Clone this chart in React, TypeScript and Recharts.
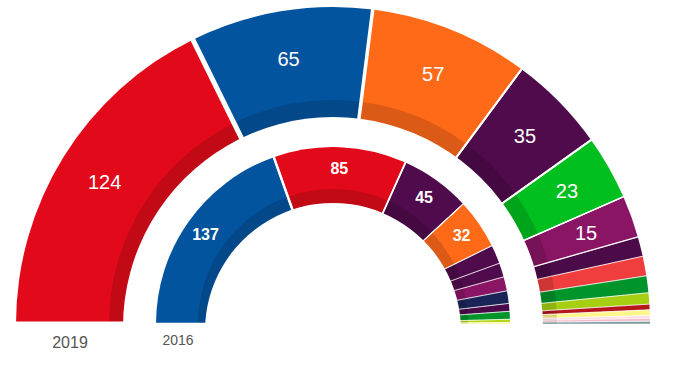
import React from "react";
import { PieChart, Pie, Cell } from "recharts";

// 2019 (outer ring)
const parties2019 = ["PSOE", "PP", "Cs", "UP", "Vox", "ERC", "ECP", "JxCat", "PNV", "EH Bildu", "PACMA", "CC", "NA+", "PRC", "Compromís"];
const seats2019 = [124, 65, 57, 35, 23, 15, 7, 7, 6, 4, 2, 2, 1, 1, 1];
const colors2019 = ["#e20a1a", "#03549f", "#ff6a19", "#4f0b4b", "#00bf1f", "#8a1565", "#4b0a48", "#f03e3e", "#00952a", "#a6cf12", "#b5161b", "#fff68c", "#fbdde3", "#f6b9cb", "#7c9c9f"];

// 2016 (inner ring)
const parties2016 = ["PP", "PSOE", "UP", "Cs", "En Comú", "Compromís", "ERC", "CDC", "En Marea", "PNV", "EH Bildu", "CC"];
const seats2016 = [137, 85, 45, 32, 12, 9, 9, 8, 5, 5, 2, 1];
const colors2016 = ["#03549f", "#e20a1a", "#4f0b4b", "#ff6a19", "#4f0b4b", "#4f0b4b", "#8a1565", "#1b2456", "#4a0a4a", "#00952a", "#b4d614", "#fff68c"];

const years = ["2019", "2016"];

const outer = parties2019.map((party, i) => ({ party, seats: seats2019[i] }));
const inner = parties2016.map((party, i) => ({ party, seats: seats2016[i] }));

const CX = 333;
const CY = 324;
const RADIAN = Math.PI / 180;

function darken(hex: string, k = 0.86) {
  const n = parseInt(hex.slice(1), 16);
  const r = Math.round(((n >> 16) & 255) * k);
  const g = Math.round(((n >> 8) & 255) * k);
  const b = Math.round((n & 255) * k);
  return `rgb(${r},${g},${b})`;
}

function makeLabel(radius: number, size: number, weight: number, min: number) {
  return (props: any) => {
    const { midAngle, value } = props;
    if (value < min) return null;
    const x = CX + radius * Math.cos(-midAngle * RADIAN);
    const y = CY + radius * Math.sin(-midAngle * RADIAN);
    return (
      <text
        x={x}
        y={y}
        fill="#fff"
        textAnchor="middle"
        dominantBaseline="central"
        fontSize={size}
        fontWeight={weight}
        fontFamily="'Liberation Sans', Arial, sans-serif"
      >
        {value}
      </text>
    );
  };
}

const outerStroke = [5, 3.5, 2, 2, 1.5, 1.2];
const innerStroke = [2.5, 1.8, 1.2, 1];

function Ring({ data, colors, strokes, r, R, band, drop, labelR, labelSize, labelWeight, labelMin }: any) {
  const common = {
    data,
    dataKey: "seats",
    cx: CX,
    cy: CY,
    startAngle: 180,
    endAngle: 0,
    innerRadius: 0,
    isAnimationActive: false,
  };
  return [
    <Pie key="light" {...common} outerRadius={R} stroke="none">
      {data.map((d: any, i: number) => (
        <Cell key={d.party} fill={colors[i]} />
      ))}
    </Pie>,
    <Pie key="dark" {...common} outerRadius={r + band} stroke="none">
      {data.map((d: any, i: number) => (
        <Cell key={d.party} fill={darken(colors[i])} />
      ))}
    </Pie>,
    <Pie
      key="sep"
      {...common}
      outerRadius={R + 4}
      fill="none"
      label={makeLabel(labelR, labelSize, labelWeight, labelMin)}
      labelLine={false}
    >
      {data.map((d: any, i: number) => (
        <Cell
          key={d.party}
          fill="none"
          stroke="#fff"
          strokeWidth={strokes[i] ?? 0.8}
          strokeOpacity={i < strokes.length ? 1 : 0.6}
        />
      ))}
    </Pie>,
    <Pie
      key="hole"
      data={[{ v: 1 }]}
      dataKey="v"
      cx={CX}
      cy={CY + drop}
      startAngle={0}
      endAngle={360}
      innerRadius={0}
      outerRadius={r}
      fill="#fff"
      stroke="none"
      isAnimationActive={false}
    />,
  ];
}

export default function App() {
  return (
    <div style={{ position: "absolute", left: 0, top: 0, width: 679, height: 369, background: "#fff" }}>
      <PieChart width={679} height={369} margin={{ top: 0, right: 0, bottom: 0, left: 0 }}>
        {Ring({
          data: outer,
          colors: colors2019,
          strokes: outerStroke,
          r: 210,
          R: 317,
          band: 14,
          drop: 3,
          labelR: 269,
          labelSize: 20,
          labelWeight: 400,
          labelMin: 15,
        })}
        {Ring({
          data: inner,
          colors: colors2016,
          strokes: innerStroke,
          r: 128,
          R: 177,
          band: 7,
          drop: 7,
          labelR: 156,
          labelSize: 16,
          labelWeight: 700,
          labelMin: 32,
        })}
      </PieChart>
      <svg
        width={679}
        height={369}
        style={{ position: "absolute", left: 0, top: 0, pointerEvents: "none" }}
      >
        <text x={70} y={348} textAnchor="middle" fontSize={16} fill="#555" fontFamily="'Liberation Sans', Arial, sans-serif">
          {years[0]}
        </text>
        <text x={178} y={345} textAnchor="middle" fontSize={14} fill="#555" fontFamily="'Liberation Sans', Arial, sans-serif">
          {years[1]}
        </text>
      </svg>
    </div>
  );
}
